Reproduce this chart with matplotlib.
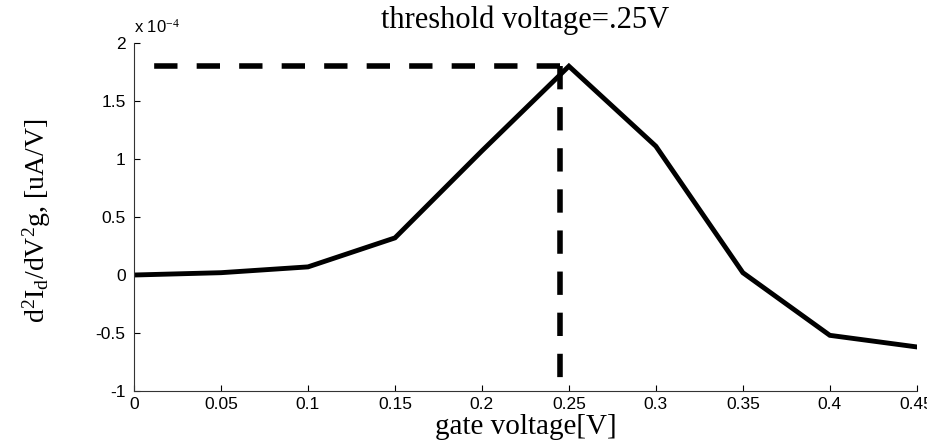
import matplotlib
matplotlib.use("Agg")
import matplotlib.pyplot as plt

plt.rcParams['font.family'] = ['Liberation Sans', 'DejaVu Sans']
plt.rcParams['mathtext.fontset'] = 'custom'
plt.rcParams['mathtext.rm'] = 'Liberation Serif'
plt.rcParams['mathtext.it'] = 'Liberation Serif'
plt.rcParams['mathtext.default'] = 'rm'

# data (second derivative in units of 1e-4 uA/V)
gate_v = [0, 0.05, 0.1, 0.15, 0.2, 0.25, 0.3, 0.35, 0.4, 0.45]
d2_id = [0.0, 0.02, 0.07, 0.32, 1.07, 1.80, 1.11, 0.02, -0.52, -0.62]
vth = 0.245
peak = 1.80

xticks = [0, 0.05, 0.1, 0.15, 0.2, 0.25, 0.3, 0.35, 0.4, 0.45]
xticklabels = ['0', '0.05', '0.1', '0.15', '0.2', '0.25', '0.3', '0.35', '0.4', '0.45']
yticks = [-1, -0.5, 0, 0.5, 1, 1.5, 2]
yticklabels = ['-1', '-0.5', '0', '0.5', '1', '1.5', '2']

fig = plt.figure(figsize=(9.27, 4.45), dpi=100)
ax = fig.add_axes([0.1446, 0.1213, 0.8444, 0.7821])

ax.plot(gate_v, d2_id, color='black', lw=3.5, solid_joinstyle='miter')
# threshold guide lines, drawn outward from the peak
ax.plot([vth, 0], [peak, peak], color='black', lw=4, dashes=(4.2, 3.45))
ax.plot([vth, vth], [peak, -1], color='black', lw=4, dashes=(4.2, 3.2))

ax.set_xlim(0, 0.45)
ax.set_ylim(-1, 2)
ax.set_xticks(xticks)
ax.set_xticklabels(xticklabels)
ax.set_yticks(yticks)
ax.set_yticklabels(yticklabels)
ax.tick_params(direction='in', length=4, width=0.8, labelsize=12.5)
ax.tick_params(axis='y', pad=6)
ax.tick_params(axis='x', pad=4)

ax.spines['top'].set_visible(False)
ax.spines['right'].set_visible(False)
for s in ['left', 'bottom']:
    ax.spines[s].set_linewidth(0.8)
    ax.spines[s].set_color('#333333')

ax.text(0.0, 1.02, r'x 10$^{-4}$', transform=ax.transAxes, fontsize=12,
        ha='left', va='bottom', family='Liberation Sans')
ax.text(0.5, 1.043, 'threshold voltage=.25V', transform=ax.transAxes,
        family='Liberation Serif', fontsize=22, ha='center', va='baseline')
ax.set_xlabel('gate voltage[V]', family='Liberation Serif', fontsize=21, labelpad=2)
ax.set_ylabel(r'd$^2$I$_d$/dV$^2$g, [uA/V]', family='Liberation Serif', fontsize=20)
ax.yaxis.set_label_coords(-0.103, 0.49)

fig.savefig('out.png', dpi=100)
